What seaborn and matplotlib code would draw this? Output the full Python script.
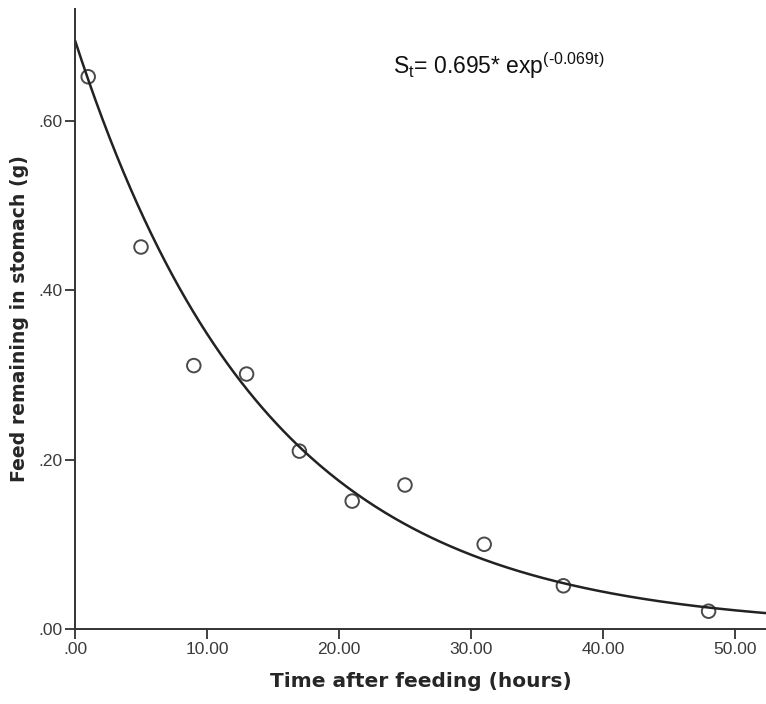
import numpy as np
import matplotlib
matplotlib.use("Agg")
import matplotlib.pyplot as plt
import seaborn as sns

# --- data ---
time_h = [1, 5, 9, 13, 17, 21, 25, 31, 37, 48]
feed_g = [0.652, 0.451, 0.311, 0.301, 0.210, 0.151, 0.170, 0.100, 0.051, 0.021]

# fitted model shown in the chart: S_t = A * exp(-k t)
fit_a = 0.695
fit_k = 0.069

x_ticks = [0, 10, 20, 30, 40, 50]
x_tick_labels = [".00", "10.00", "20.00", "30.00", "40.00", "50.00"]
y_ticks = [0.0, 0.2, 0.4, 0.6]
y_tick_labels = [".00", ".20", ".40", ".60"]

sns.set_style("white")
plt.rcParams["font.family"] = ["Liberation Sans", "DejaVu Sans"]
plt.rcParams["mathtext.default"] = "regular"

fig = plt.figure(figsize=(7.66, 7.04), dpi=100)
ax = fig.add_axes([75 / 766, 75 / 704, 1 - 75 / 766, 620 / 704])

t_curve = np.linspace(0, 52.4, 300)
sns.lineplot(x=t_curve, y=fit_a * np.exp(-fit_k * t_curve), ax=ax,
             color="#222222", linewidth=1.8)
sns.scatterplot(x=time_h, y=feed_g, ax=ax, s=95, marker="o",
                facecolor="none", edgecolor="#4a4a4a", linewidth=1.4)

ax.set_xlim(0, 52.35)
ax.set_ylim(0, 0.732)
ax.set_xticks(x_ticks)
ax.set_xticklabels(x_tick_labels)
ax.set_yticks(y_ticks)
ax.set_yticklabels(y_tick_labels)
ax.tick_params(axis="both", direction="out", length=7, width=1.3,
               color="#333333", labelsize=12.5, labelcolor="#3a3a3a", pad=2,
               bottom=True, left=True)

for side in ["top", "right"]:
    ax.spines[side].set_visible(False)
for side in ["left", "bottom"]:
    ax.spines[side].set_color("#333333")
    ax.spines[side].set_linewidth(1.4)

ax.set_xlabel("Time after feeding (hours)", fontsize=14.5, fontweight="bold",
              family="DejaVu Sans", labelpad=11)
ax.set_ylabel("Feed remaining in stomach (g)", fontsize=13.6, fontweight="bold",
              family="DejaVu Sans", labelpad=7)

ax.text(393 / 766, 1 - 66 / 704, "S$_t$= 0.695* exp$^{(\u20100.069t)}$",
        transform=fig.transFigure, fontsize=16.5, ha="left", va="center",
        color="#111111")

fig.savefig("out.png", dpi=100)
